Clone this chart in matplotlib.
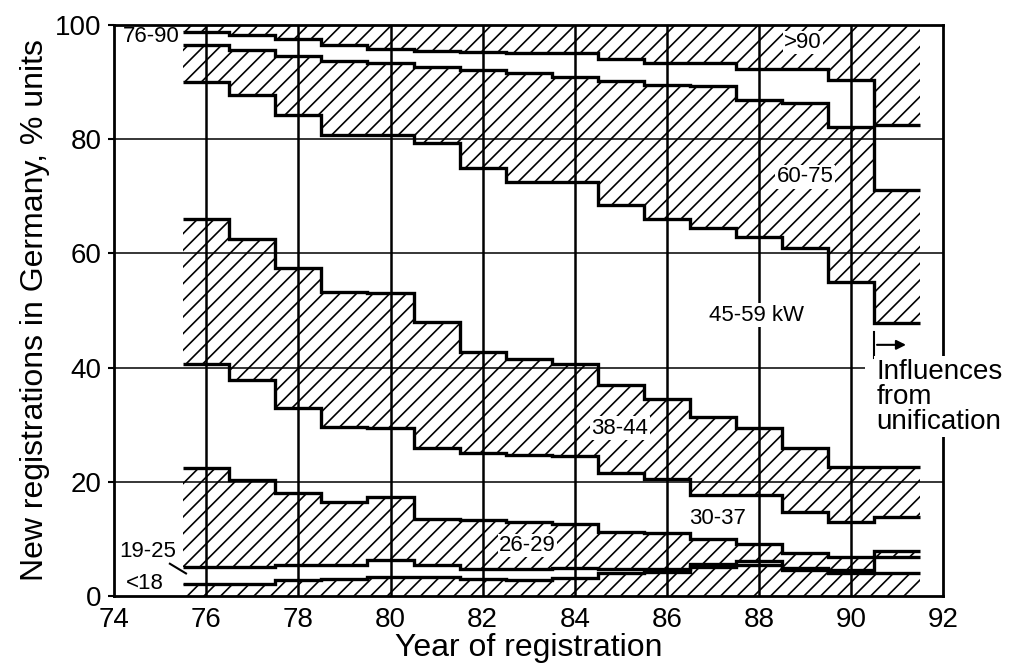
import numpy as np
import matplotlib.pyplot as plt

plt.rcParams['font.family'] = ['Liberation Sans', 'DejaVu Sans']
plt.rcParams['hatch.color'] = 'k'
plt.rcParams['hatch.linewidth'] = 1.2

years = np.arange(76, 92)

# cumulative share (% units) at the upper edge of each power class
top_18 = [2.2, 2.2, 2.8, 3.1, 3.4, 3.4, 3.1, 2.9, 3.2, 4.0, 4.3, 5.1, 5.5, 4.6, 4.1, 4.0]
top_25 = [5.1, 5.1, 5.4, 5.4, 6.3, 5.4, 4.8, 4.8, 5.0, 4.8, 4.8, 5.7, 6.2, 5.0, 4.6, 6.9]
top_29 = [22.4, 20.3, 18.0, 16.5, 17.4, 13.6, 13.3, 13.0, 12.6, 11.3, 11.0, 10.0, 9.2, 7.5, 6.9, 7.9]
top_37 = [40.7, 37.8, 32.9, 29.7, 29.4, 25.9, 25.0, 24.7, 24.5, 21.5, 20.6, 17.7, 17.7, 14.8, 13.0, 13.9]
top_44 = [66.1, 62.6, 57.4, 53.3, 53.0, 48.0, 42.8, 41.6, 40.7, 37.0, 34.6, 31.4, 29.4, 25.9, 22.6, 22.6]
top_59 = [90.0, 87.7, 84.2, 80.7, 80.7, 79.4, 74.9, 72.5, 72.5, 68.5, 66.1, 64.4, 62.9, 60.9, 55.0, 47.8]
top_75 = [96.5, 95.6, 94.6, 93.6, 93.3, 92.7, 92.1, 91.5, 90.9, 90.1, 89.4, 89.3, 86.9, 86.3, 82.2, 71.1]
top_90 = [98.8, 98.2, 97.5, 96.5, 95.7, 95.5, 95.3, 95.0, 95.0, 94.0, 93.3, 93.3, 92.3, 92.3, 90.4, 82.5]
top_all = [100.0] * len(years)

edges = np.append(years - 0.5, years[-1] + 0.5)

fig = plt.figure(figsize=(10.1, 6.7), dpi=100)
ax = fig.add_axes([0.113, 0.110, 0.821, 0.853])

# grid
for xv in range(76, 92, 2):
    ax.axvline(xv, color='k', lw=1.8, zorder=1)
for yv in [20, 60, 80]:
    ax.axhline(yv, color='k', lw=1.1, zorder=1)
ax.hlines(40, 74, 90.3, color='k', lw=1.1, zorder=1)

# hatched classes: <18, 26-29, 38-44, 60-75, >90
for lo, hi in [([0] * len(years), top_18), (top_25, top_29), (top_37, top_44),
               (top_59, top_75), (top_90, top_all)]:
    ax.stairs(hi, edges, baseline=lo, fill=True, facecolor='none',
              edgecolor='k', hatch='//', linewidth=0, zorder=2)

# class boundaries
for b in [top_18, top_25, top_29, top_37, top_44, top_59, top_75, top_90]:
    ax.stairs(b, edges, baseline=None, color='k', lw=2.4, zorder=3)

lab = dict(fontsize=16, ha='center', va='center', zorder=6)
box = dict(fc='white', ec='none', pad=1)
ax.text(88.95, 96.9, '>90', bbox=box, **lab)
ax.text(89.0, 73.4, '60-75', bbox=box, **lab)
ax.text(87.95, 49.2, '45-59 kW', bbox=box, **lab)
ax.text(84.98, 29.4, '38-44', bbox=box, **lab)
ax.text(87.1, 13.6, '30-37', bbox=box, **lab)
ax.text(82.97, 8.9, '26-29', bbox=box, **lab)
ax.text(74.8, 97.9, '76-90', **lab)
ax.text(74.73, 7.8, '19-25', **lab)
ax.text(74.67, 2.2, '<18', **lab)
ax.plot([75.21, 75.56], [5.7, 4.0], color='k', lw=1.5, zorder=4)

# unification note
ax.plot([90.5, 90.5], [41.7, 46.2], color='k', lw=1.5, zorder=4, clip_on=False)
ax.annotate('', xy=(91.25, 44), xytext=(90.5, 44),
            arrowprops=dict(arrowstyle='-|>', color='k', lw=1.5, mutation_scale=14))
ax.text(90.55, 41.6, 'Influences\nfrom\nunification', fontsize=20, ha='left', va='top',
        linespacing=0.95, zorder=10, clip_on=False,
        bbox=dict(fc='white', ec='none', pad=2))

ax.set_xlim(74, 92)
ax.set_ylim(0, 100)
ax.set_xticks(range(74, 93, 2))
ax.set_yticks(range(0, 101, 20))
ax.tick_params(labelsize=20, length=4, width=1.5, pad=3)
ax.tick_params(axis='x', length=0, pad=8)
ax.tick_params(axis='y', pad=5)
for s in ax.spines.values():
    s.set_linewidth(2)
ax.set_xlabel('Year of registration', fontsize=23, labelpad=0)
ax.set_ylabel('New registrations in Germany, % units', fontsize=23, labelpad=4)

fig.savefig('out.png', dpi=100)
